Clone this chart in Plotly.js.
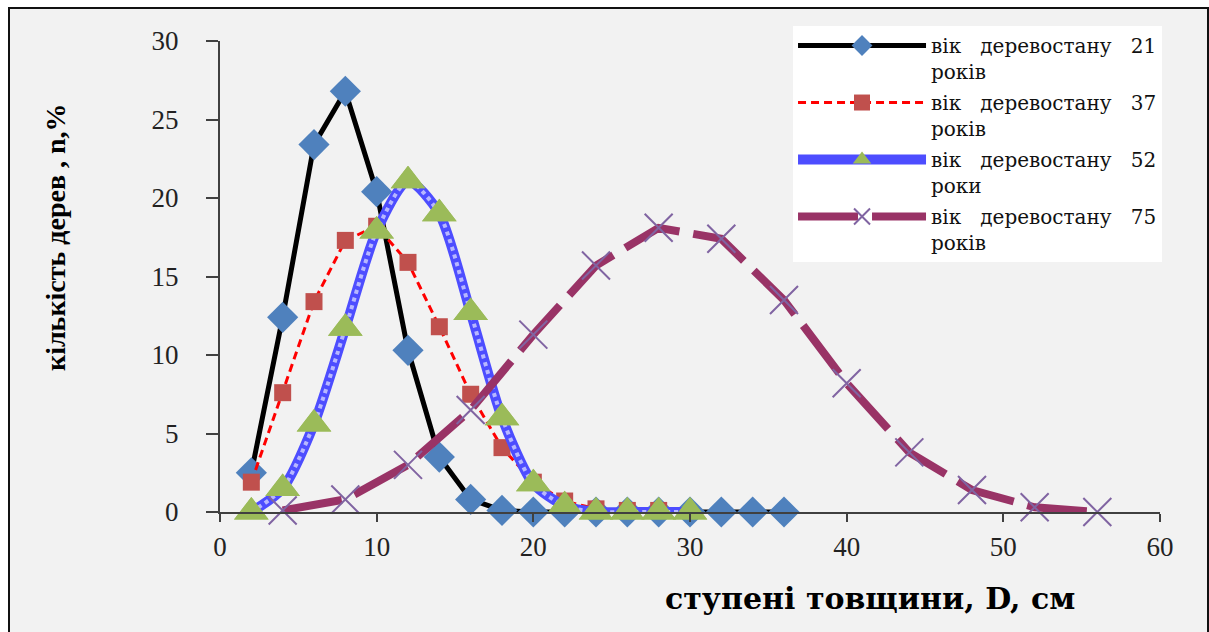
<!DOCTYPE html>
<html>
<head>
<meta charset="utf-8">
<script src="https://cdn.plot.ly/plotly-3.0.1.min.js"></script>
<style>
  html, body { margin: 0; padding: 0; background: #ffffff; overflow: hidden; }
  #frame { position: absolute; left: 8px; top: 7px; width: 1197px; height: 640px;
           border: 2px solid #111; background: #f2f2f2; }
  #chart { position: absolute; left: 0; top: 0; width: 1209px; height: 632px; }
</style>
</head>
<body>
<div id="frame"></div>
<div id="chart"></div>
<script>
// ---- data ----
const x21 = [2, 4, 6, 8, 10, 12, 14, 16, 18, 20, 22, 24, 26, 28, 30, 32, 34, 36];
const y21 = [2.5, 12.4, 23.4, 26.8, 20.4, 10.3, 3.5, 0.8, 0.1, 0, 0, 0, 0, 0, 0, 0, 0, 0];

const x37 = [2, 4, 6, 8, 10, 12, 14, 16, 18, 20, 22, 24, 26, 28];
const y37 = [1.9, 7.6, 13.4, 17.3, 18.2, 15.9, 11.8, 7.5, 4.1, 1.9, 0.7, 0.2, 0.1, 0.1];

const x52 = [2, 4, 6, 8, 10, 12, 14, 16, 18, 20, 22, 24, 26, 28, 30];
const y52 = [0, 1.5, 5.6, 11.7, 17.9, 21.1, 19.0, 12.7, 6.0, 1.8, 0.4, 0, 0, 0, 0];

const x75 = [4, 8, 12, 16, 20, 24, 28, 32, 36, 40, 44, 48, 52, 56];
const y75 = [0.1, 0.8, 3.0, 6.5, 11.3, 15.7, 18.1, 17.4, 13.5, 8.2, 3.8, 1.4, 0.3, 0.0];

const sp = "\u00A0\u00A0\u00A0";
const seriesNames = [
  "вік" + sp + "деревостану" + sp + "21<br>років",
  "вік" + sp + "деревостану" + sp + "37<br>років",
  "вік" + sp + "деревостану" + sp + "52<br>роки",
  "вік" + sp + "деревостану" + sp + "75<br>років"
];
const xTitle = "ступені товщини, D, см";
const yTitle = "кількість дерев , n,%";

const traces = [
  { x: x21, y: y21, name: seriesNames[0], legendgroup: "g1", mode: "lines+markers", cliponaxis: false,
    line: { color: "#000000", width: 5 },
    marker: { symbol: "diamond", size: 24, color: "#4F81BD" } },
  { x: x37, y: y37, name: seriesNames[1], legendgroup: "g2", mode: "lines+markers", cliponaxis: false,
    line: { color: "#FF0000", width: 3, dash: "8px,5px" },
    marker: { symbol: "square", size: 17, color: "#C0504D" } },
  { x: x52, y: y52, name: seriesNames[2], legendgroup: "g3", mode: "lines+markers", cliponaxis: false,
    line: { color: "#4d4dff", width: 10, shape: "spline", smoothing: 0.7 },
    marker: { symbol: "triangle-up", size: 30, color: "#9BBB59" } },
  { x: x52, y: y52, legendgroup: "g3", showlegend: false, mode: "lines", cliponaxis: false, hoverinfo: "skip",
    line: { color: "rgba(255,255,255,0.6)", width: 4, dash: "dot", shape: "spline", smoothing: 0.7 } },
  { x: x52, y: y52, legendgroup: "g3", showlegend: false, mode: "markers", cliponaxis: false,
    marker: { symbol: "triangle-up", size: 30, color: "#9BBB59" } },
  { x: x75, y: y75, name: seriesNames[3], legendgroup: "g4", mode: "lines+markers", cliponaxis: false,
    line: { color: "#993366", width: 8, dash: "60px,14px" },
    marker: { symbol: "x-thin", size: 28, color: "#8064A2", line: { color: "#8064A2", width: 2 } } }
];

const axisFont = { family: "Liberation Serif, Times New Roman, serif", size: 27, color: "#222" };

const layout = {
  width: 1209, height: 632,
  margin: { l: 220, r: 49, t: 41, b: 120 },
  paper_bgcolor: "rgba(0,0,0,0)",
  plot_bgcolor: "#f2f2f2",
  showlegend: true,
  xaxis: {
    range: [0, 60], dtick: 10, tick0: 0, showgrid: false, zeroline: false,
    showline: true, linecolor: "#404040", linewidth: 2,
    ticks: "outside", ticklen: 8, tickwidth: 2, tickcolor: "#404040",
    tickfont: axisFont, ticklabelstandoff: 2
  },
  yaxis: {
    range: [0, 30], dtick: 5, tick0: 0, showgrid: false, zeroline: false,
    showline: true, linecolor: "#404040", linewidth: 2,
    ticks: "outside", ticklen: 12, tickwidth: 2, tickcolor: "#404040",
    tickfont: axisFont, ticklabelstandoff: 22
  },
  legend: {
    x: 0.6096, y: 1.0318, xanchor: "left", yanchor: "top",
    bgcolor: "#ffffff", borderwidth: 0,
    font: { family: "DejaVu Serif, serif", size: 20, color: "#111" },
    itemwidth: 128, valign: "top", tracegroupgap: 2,
    itemclick: false, itemdoubleclick: false
  },
  annotations: [
    { text: xTitle, xref: "paper", yref: "paper", x: 0.6915, y: -0.1826,
      xanchor: "center", yanchor: "middle", showarrow: false,
      font: { family: "DejaVu Serif, serif", size: 30, color: "#000", weight: "bold" } },
    { text: yTitle, xref: "paper", yref: "paper", x: (55 - 220) / 940, y: (512 - 237) / 471,
      xanchor: "center", yanchor: "middle", showarrow: false, textangle: -90,
      font: { family: "Liberation Serif, serif", size: 28, color: "#000", weight: "bold" } }
  ]
};

Plotly.newPlot("chart", traces, layout, { staticPlot: true, displayModeBar: false });
</script>
</body>
</html>
